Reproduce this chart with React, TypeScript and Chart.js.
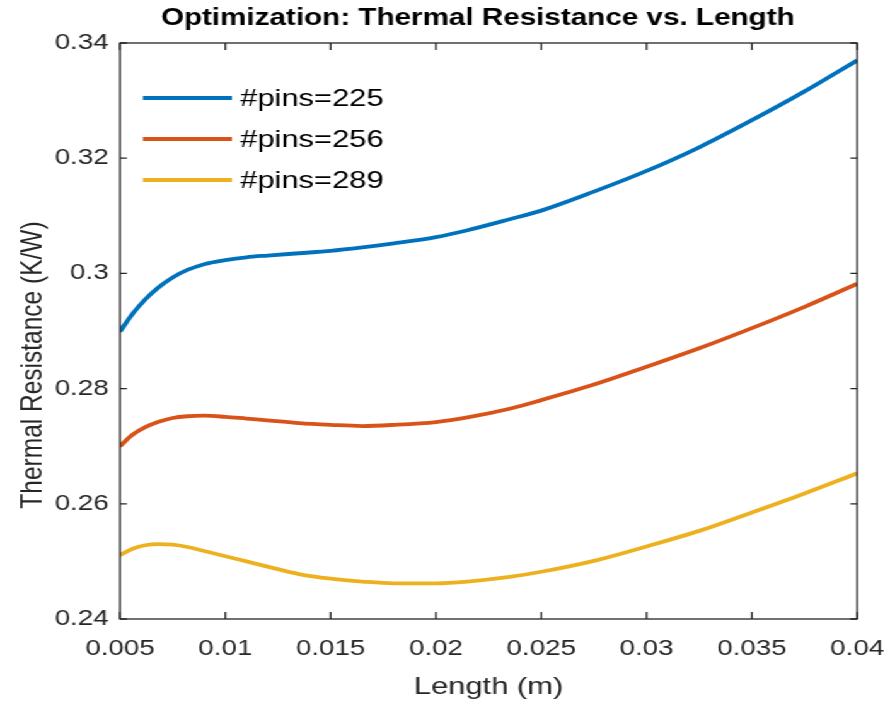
import React, { useEffect, useRef } from "react";
import { Chart, registerables } from "chart.js";

Chart.register(...registerables);

const lengths = [0.005, 0.0056, 0.0062, 0.0068, 0.0075, 0.0082, 0.009, 0.01, 0.011, 0.012, 0.0135, 0.015, 0.0165, 0.018, 0.02, 0.0215, 0.0235, 0.025, 0.0275, 0.03, 0.0325, 0.035, 0.0375, 0.04];
const pins225 = [0.2899, 0.293, 0.2955, 0.2975, 0.2993, 0.3006, 0.3016, 0.3023, 0.3028, 0.3031, 0.3035, 0.3039, 0.3045, 0.3052, 0.3063, 0.3075, 0.3094, 0.3109, 0.3142, 0.3178, 0.3219, 0.3266, 0.3316, 0.337];
const pins256 = [0.27, 0.272, 0.2733, 0.2742, 0.2749, 0.2752, 0.2753, 0.2751, 0.2748, 0.2745, 0.274, 0.2737, 0.2735, 0.2737, 0.2742, 0.275, 0.2765, 0.278, 0.2807, 0.2838, 0.287, 0.2905, 0.2942, 0.2982];
const pins289 = [0.2511, 0.2522, 0.2528, 0.253, 0.2529, 0.2525, 0.2518, 0.2509, 0.25, 0.2491, 0.2478, 0.247, 0.2465, 0.2462, 0.2462, 0.2465, 0.2473, 0.2482, 0.2501, 0.2526, 0.2553, 0.2585, 0.2618, 0.2653];
const seriesLabels = ["#pins=225", "#pins=256", "#pins=289"];
const seriesColors = ["#0072BD", "#D95319", "#EDB120"];
const xTicks = [0.005, 0.01, 0.015, 0.02, 0.025, 0.03, 0.035, 0.04];
const yTicks = [0.24, 0.26, 0.28, 0.3, 0.32, 0.34];
const titleText = "Optimization: Thermal Resistance vs. Length";
const xTitle = "Length (m)";
const yTitle = "Thermal Resistance (K/W)";

const W = 706;
const H = 705;
const SX = 890 / W;
const FONT = "'Liberation Sans', Arial, Helvetica, sans-serif";

const overlay = {
  id: "overlay",
  afterDraw(chart: any) {
    const ctx = chart.ctx;
    const a = chart.chartArea;
    const xs = chart.scales.x;
    const ys = chart.scales.y;
    ctx.save();
    ctx.strokeStyle = "#262626";
    ctx.lineWidth = 1.3;
    ctx.strokeRect(a.left, a.top, a.right - a.left, a.bottom - a.top);
    ctx.beginPath();
    for (const v of xTicks) {
      const px = xs.getPixelForValue(v);
      ctx.moveTo(px, a.bottom);
      ctx.lineTo(px, a.bottom - 7);
      ctx.moveTo(px, a.top);
      ctx.lineTo(px, a.top + 7);
    }
    for (const v of yTicks) {
      const py = ys.getPixelForValue(v);
      ctx.moveTo(a.left, py);
      ctx.lineTo(a.left + 5.5, py);
      ctx.moveTo(a.right, py);
      ctx.lineTo(a.right - 5.5, py);
    }
    ctx.stroke();

    // title
    ctx.fillStyle = "#000";
    ctx.font = "bold 23.5px " + FONT;
    ctx.textAlign = "center";
    ctx.textBaseline = "middle";
    ctx.fillText(titleText, 379, 19);

    // y-axis title
    ctx.save();
    ctx.translate(26.5, 365);
    ctx.rotate(-Math.PI / 2);
    ctx.fillStyle = "#262626";
    ctx.font = "24.5px " + FONT;
    ctx.fillText(yTitle, 0, 0);
    ctx.restore();

    // legend
    const ds = chart.data.datasets;
    ctx.font = "24.5px " + FONT;
    ctx.textAlign = "left";
    for (let i = 0; i < ds.length; i++) {
      const y = 98 + i * 41;
      ctx.strokeStyle = ds[i].borderColor;
      ctx.lineWidth = 4;
      ctx.beginPath();
      ctx.moveTo(113.4, y);
      ctx.lineTo(184, y);
      ctx.stroke();
      ctx.fillStyle = "#000";
      ctx.fillText(ds[i].label, 190.5, y + 1);
    }
    ctx.restore();
  },
};

function fmt(v: any) {
  return parseFloat(Number(v).toFixed(4)).toString();
}

export default function App() {
  const ref = useRef<HTMLCanvasElement | null>(null);
  useEffect(() => {
    if (!ref.current) return;
    const series = [pins225, pins256, pins289];
    const chart = new Chart(ref.current, {
      type: "line",
      data: {
        datasets: series.map((s, i) => ({
          label: seriesLabels[i],
          data: lengths.map((x, j) => ({ x, y: s[j] })),
          borderColor: seriesColors[i],
          backgroundColor: seriesColors[i],
          borderWidth: 3.8,
          pointRadius: 0,
          cubicInterpolationMode: "monotone" as const,
          fill: false,
        })),
      },
      options: {
        animation: false,
        responsive: false,
        devicePixelRatio: 1,
        layout: { padding: { top: 43, right: W - 680, left: 0, bottom: 0 } },
        plugins: { legend: { display: false }, title: { display: false }, tooltip: { enabled: false } },
        scales: {
          x: {
            type: "linear",
            min: 0.005,
            max: 0.04,
            afterBuildTicks: (s: any) => { s.ticks = xTicks.map((v) => ({ value: v })); },
            afterFit: (s: any) => { s.height = H - 619; s.paddingLeft = 0; s.paddingRight = 0; },
            grid: { display: false, drawTicks: false },
            border: { display: false },
            ticks: { callback: fmt, color: "#262626", font: { family: FONT, size: 22 }, padding: 17, maxRotation: 0, autoSkip: false },
            title: { display: true, text: xTitle, color: "#262626", font: { family: FONT, size: 24.5 }, padding: { top: 0, bottom: 3 } },
          },
          y: {
            type: "linear",
            min: 0.24,
            max: 0.34,
            afterBuildTicks: (s: any) => { s.ticks = yTicks.map((v) => ({ value: v })); },
            afterFit: (s: any) => { s.width = 95.2; s.paddingTop = 0; s.paddingBottom = 0; },
            grid: { display: false, drawTicks: false },
            border: { display: false },
            ticks: { callback: fmt, color: "#262626", font: { family: FONT, size: 22 }, padding: 9, autoSkip: false },
            title: { display: false },
          },
        },
      },
      plugins: [overlay],
    });
    return () => chart.destroy();
  }, []);
  return (
    <div style={{ position: "absolute", left: 0, top: 0, width: W, height: H, transform: `scaleX(${SX})`, transformOrigin: "0 0", background: "#fff" }}>
      <canvas ref={ref} width={W} height={H} style={{ display: "block" }} />
    </div>
  );
}
